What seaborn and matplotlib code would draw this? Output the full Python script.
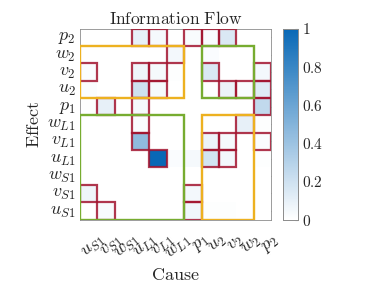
import numpy as np
import pandas as pd
import matplotlib
matplotlib.use('Agg')
import matplotlib.pyplot as plt
import matplotlib.transforms as mtransforms
import seaborn as sns
from matplotlib.colors import LinearSegmentedColormap
from matplotlib.patches import Rectangle

# Cause (columns) and effect (rows) variables
causes = [r'$u_{S1}$', r'$v_{S1}$', r'$w_{S1}$', r'$u_{L1}$', r'$v_{L1}$', r'$w_{L1}$',
          r'$p_1$', r'$u_2$', r'$v_2$', r'$w_2$', r'$p_2$']
effects = [r'$p_2$', r'$w_2$', r'$v_2$', r'$u_2$', r'$p_1$', r'$w_{L1}$',
           r'$v_{L1}$', r'$u_{L1}$', r'$w_{S1}$', r'$v_{S1}$', r'$u_{S1}$']

# Normalised information flow (rows = effect, cols = cause)
flow = [
    [0.00, 0.00, 0.00, 0.10, 0.04, 0.00, 0.03, 0.03, 0.15, 0.00, 0.00],
    [0.00, 0.00, 0.00, 0.00, 0.00, 0.05, 0.00, 0.02, 0.00, 0.00, 0.00],
    [0.02, 0.00, 0.00, 0.07, 0.04, 0.01, 0.00, 0.15, 0.00, 0.00, 0.05],
    [0.02, 0.00, 0.00, 0.20, 0.04, 0.00, 0.00, 0.01, 0.08, 0.02, 0.13],
    [0.01, 0.10, 0.00, 0.04, 0.00, 0.00, 0.00, 0.00, 0.00, 0.00, 0.25],
    [0.00, 0.00, 0.00, 0.02, 0.00, 0.00, 0.00, 0.00, 0.00, 0.10, 0.01],
    [0.00, 0.00, 0.00, 0.45, 0.00, 0.00, 0.00, 0.08, 0.04, 0.00, 0.02],
    [0.00, 0.00, 0.00, 0.00, 1.00, 0.02, 0.04, 0.18, 0.05, 0.00, 0.01],
    [0.00, 0.00, 0.00, 0.00, 0.00, 0.00, 0.00, 0.00, 0.00, 0.00, 0.00],
    [0.07, 0.00, 0.00, 0.00, 0.00, 0.00, 0.05, 0.00, 0.00, 0.00, 0.00],
    [0.00, 0.03, 0.00, 0.00, 0.00, 0.00, 0.06, 0.01, 0.01, 0.00, 0.00],
]

# Significant links (row, col) -> red outline
significant = [(0, 3), (0, 4), (0, 6), (0, 7), (0, 8),
               (1, 5),
               (2, 0), (2, 3), (2, 4), (2, 7), (2, 10),
               (3, 3), (3, 4), (3, 8), (3, 9), (3, 10),
               (4, 1), (4, 3), (4, 10),
               (5, 3), (5, 9),
               (6, 3), (6, 7), (6, 8), (6, 10),
               (7, 4), (7, 7), (7, 8),
               (9, 0), (9, 6),
               (10, 1), (10, 6)]

# Group blocks: (first row, last row, first col, last col, colour)
blocks = [(1, 3, 0, 5, '#edb120'), (1, 3, 7, 9, '#77ac30'),
          (5, 10, 0, 5, '#77ac30'), (5, 10, 7, 9, '#edb120')]

sns.set_style('white')
plt.rcParams['mathtext.fontset'] = 'cm'
plt.rcParams['font.family'] = ['DejaVu Serif']

df = pd.DataFrame(flow, index=effects, columns=causes)
cmap = LinearSegmentedColormap.from_list('wb', ['#ffffff', '#0868b6'])

fig = plt.figure(figsize=(3.81, 2.86), dpi=100)
ax = fig.add_axes([80 / 381, 1 - 219.5 / 286, 191 / 381, 191 / 286])
cax = fig.add_axes([283 / 381, 1 - 219.5 / 286, 15 / 381, 191 / 286])

sns.heatmap(df, ax=ax, cbar_ax=cax, cmap=cmap, vmin=0, vmax=1,
            cbar_kws={'ticks': [0, 0.2, 0.4, 0.6, 0.8, 1]})

for r, c in significant:
    ax.add_patch(Rectangle((c, r), 1, 1, fill=False, ec='#a2142f', lw=1.6, alpha=0.85, zorder=3))

for r0, r1, c0, c1, col in blocks:
    ax.add_patch(Rectangle((c0, r0), c1 - c0 + 1, r1 - r0 + 1, fill=False, ec=col, lw=1.7, zorder=4))

for s in ax.spines.values():
    s.set_visible(True)
    s.set_color('#8c8c8c')
    s.set_linewidth(0.6)
ax.tick_params(direction='in', length=2, color='#8c8c8c', top=True, right=True, pad=3)
ax.set_yticklabels(effects, rotation=0, fontsize=13)
ax.set_xticklabels(causes, rotation=40, ha='right', va='top', rotation_mode='anchor', fontsize=13)
# nudge rotated labels so their ends sit right of the ticks, like the original
shift = mtransforms.ScaledTranslation(6 / 72, -5 / 72, fig.dpi_scale_trans)
for lab in ax.get_xticklabels():
    lab.set_transform(lab.get_transform() + shift)
ax.set_title(r'$\mathrm{Information\ Flow}$', fontsize=12.5, pad=3)
ax.set_xlabel(r'$\mathrm{Cause}$', fontsize=13, labelpad=2)
ax.set_ylabel(r'$\mathrm{Effect}$', fontsize=13, labelpad=3)

cax.set_yticklabels([r'$0$', r'$0.2$', r'$0.4$', r'$0.6$', r'$0.8$', r'$1$'], fontsize=11)
cax.tick_params(direction='in', length=2, color='#8c8c8c', pad=3)
for s in cax.spines.values():
    s.set_visible(True)
    s.set_color('#8c8c8c')
    s.set_linewidth(0.6)

fig.savefig('out.png', dpi=100)
